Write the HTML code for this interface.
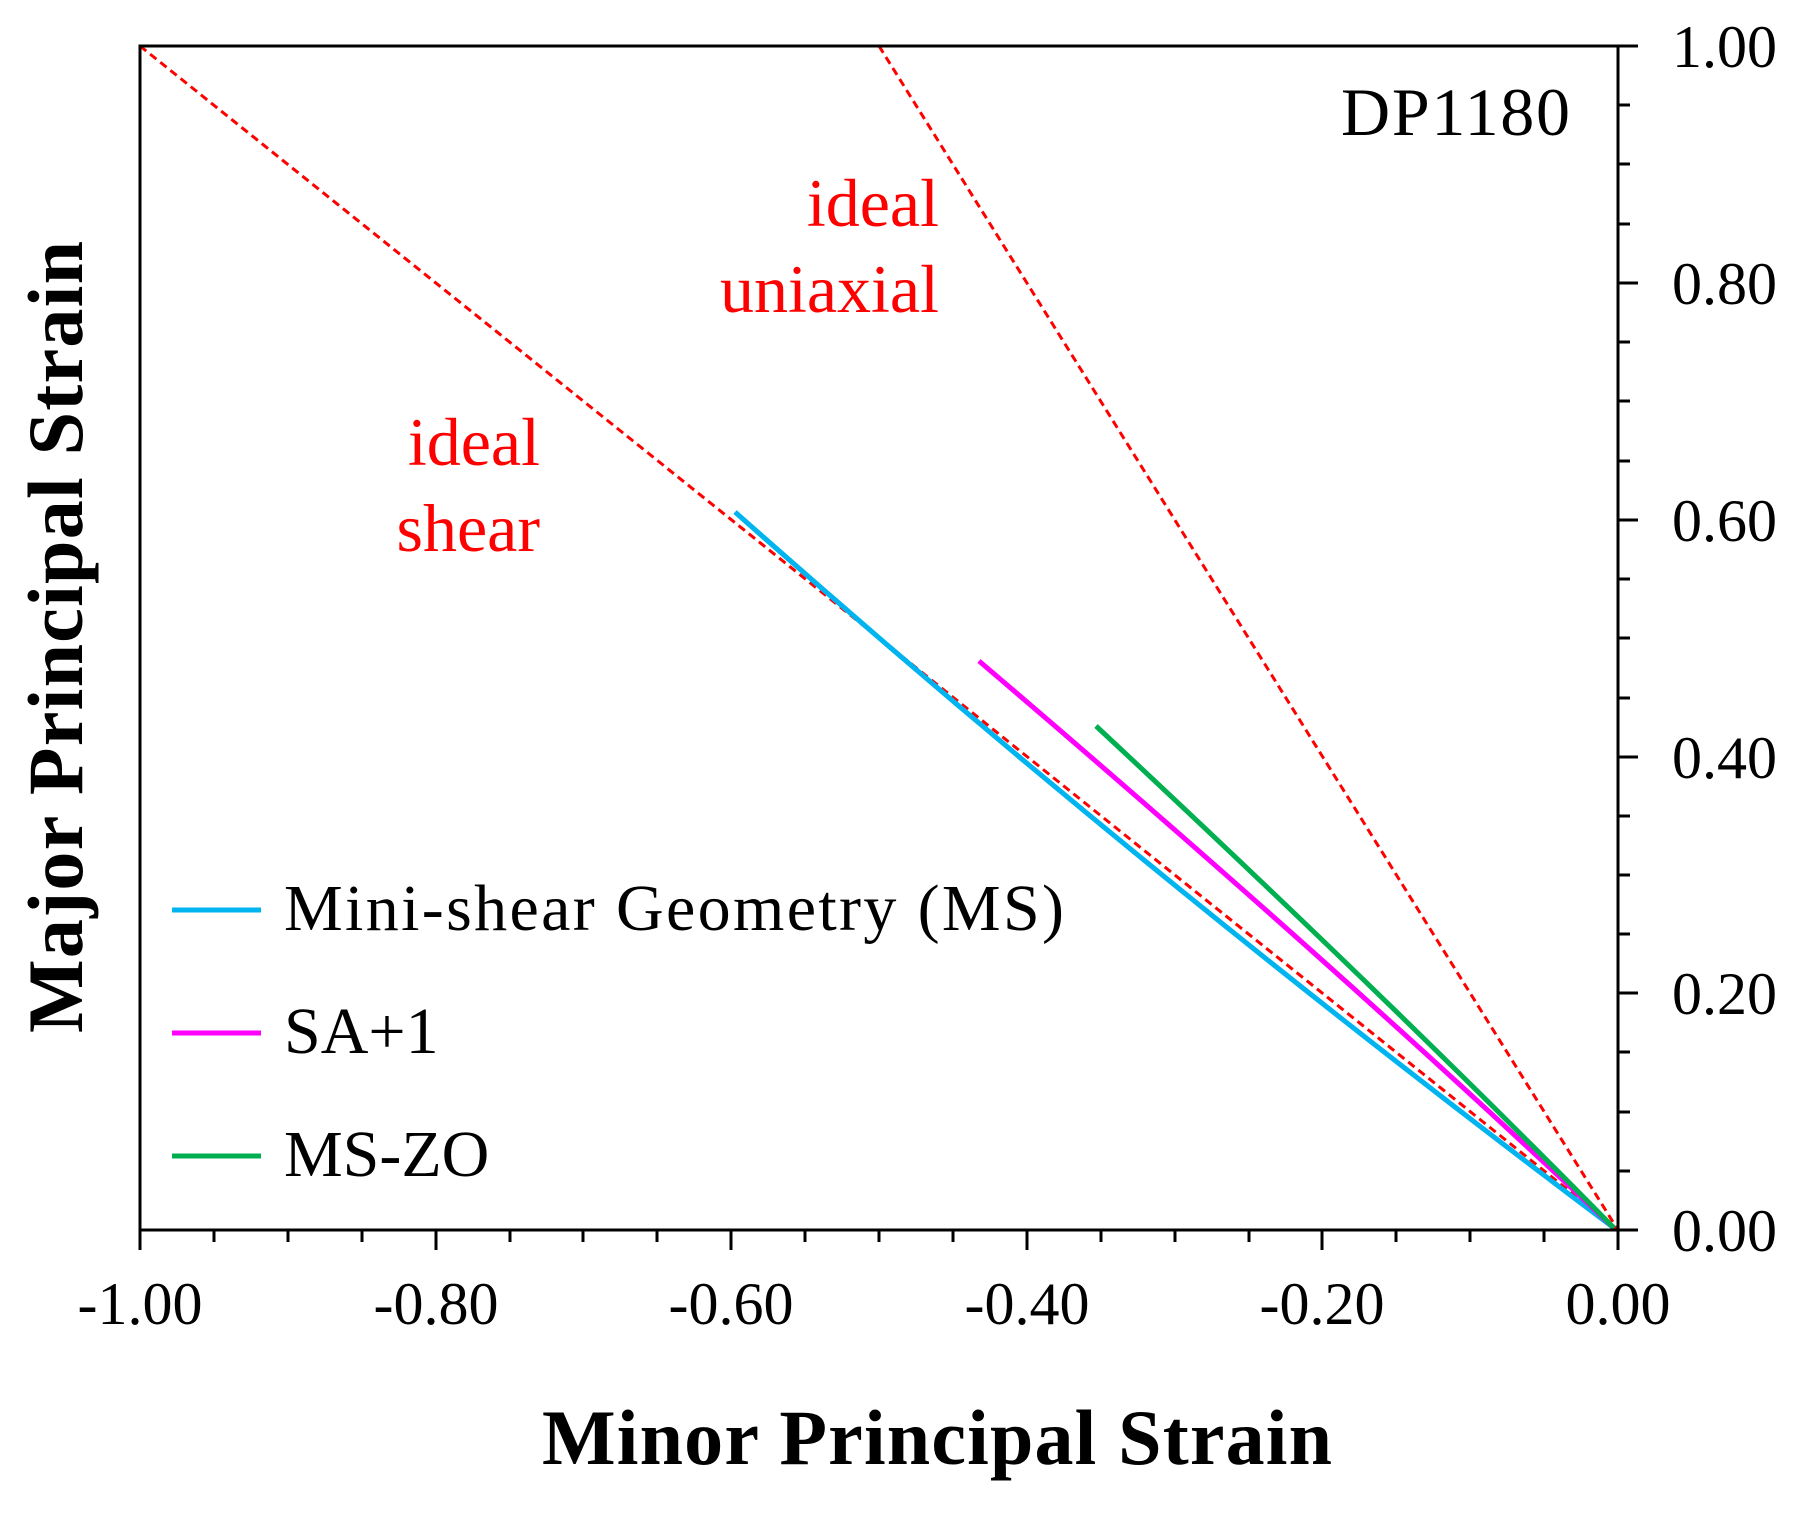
<!DOCTYPE html>
<html><head><style>body{margin:0;background:#fff}</style></head><body>
<svg width="1800" height="1509" xmlns="http://www.w3.org/2000/svg" font-family="'Liberation Serif',serif">
<rect width="1800" height="1509" fill="#fff"/>
<g stroke="#f00" stroke-width="3" stroke-dasharray="8,5" fill="none">
<line x1="140" y1="46" x2="1618" y2="1230"/>
<line x1="879" y1="46" x2="1618" y2="1230"/>
</g>
<g fill="none" stroke-width="5" stroke-linecap="butt">
<path d="M735,512 Q1150,880 1614,1228" stroke="#00b4f0"/>
<path d="M979,661 Q1330,960 1614,1228" stroke="#f0f"/>
<path d="M1096,726 Q1390,1000 1614,1228" stroke="#00b050"/>
</g>
<g stroke="#000" stroke-width="3" fill="none">
<rect x="140" y="46" width="1478" height="1184"/>
<path d="M140,1230v20M214,1230v12M288,1230v12M362,1230v12M436,1230v20M510,1230v12M583,1230v12M657,1230v12M731,1230v20M805,1230v12M879,1230v12M953,1230v12M1027,1230v20M1101,1230v12M1175,1230v12M1249,1230v12M1322,1230v20M1396,1230v12M1470,1230v12M1544,1230v12M1618,1230v20"/>
<path d="M1618,46h20M1618,105h12M1618,164h12M1618,224h12M1618,283h20M1618,342h12M1618,401h12M1618,461h12M1618,520h20M1618,579h12M1618,638h12M1618,698h12M1618,757h20M1618,816h12M1618,875h12M1618,934h12M1618,993h20M1618,1052h12M1618,1112h12M1618,1171h12M1618,1230h20"/>
</g>
<g font-size="60" fill="#000" text-anchor="middle">
<text x="140" y="1324">-1.00</text><text x="436" y="1324">-0.80</text><text x="731" y="1324">-0.60</text><text x="1027" y="1324">-0.40</text><text x="1322" y="1324">-0.20</text><text x="1618" y="1324">0.00</text>
</g>
<g font-size="60" fill="#000">
<text x="1672" y="67">1.00</text><text x="1672" y="304">0.80</text><text x="1672" y="541">0.60</text><text x="1672" y="778">0.40</text><text x="1672" y="1014">0.20</text><text x="1672" y="1251">0.00</text>
</g>
<text x="1341" y="135" font-size="68" textLength="229">DP1180</text>
<g font-size="68" fill="#f00" text-anchor="end">
<text x="939" y="226">ideal</text><text x="939" y="312">uniaxial</text>
<text x="540" y="465">ideal</text><text x="540" y="551">shear</text>
</g>
<g stroke-width="5">
<line x1="172" y1="910" x2="261" y2="910" stroke="#00b4f0"/>
<line x1="172" y1="1033" x2="261" y2="1033" stroke="#f0f"/>
<line x1="172" y1="1156" x2="261" y2="1156" stroke="#00b050"/>
</g>
<g font-size="66" fill="#000">
<text x="284" y="930" textLength="780">Mini-shear  Geometry  (MS)</text>
<text x="284" y="1053">SA+1</text>
<text x="284" y="1176">MS-ZO</text>
</g>
<text x="937" y="1464" font-size="78" font-weight="bold" text-anchor="middle" textLength="790">Minor Principal Strain</text>
<text transform="translate(82,637) rotate(-90)" font-size="78" font-weight="bold" text-anchor="middle" textLength="792">Major Principal Strain</text>
</svg>
</body></html>
